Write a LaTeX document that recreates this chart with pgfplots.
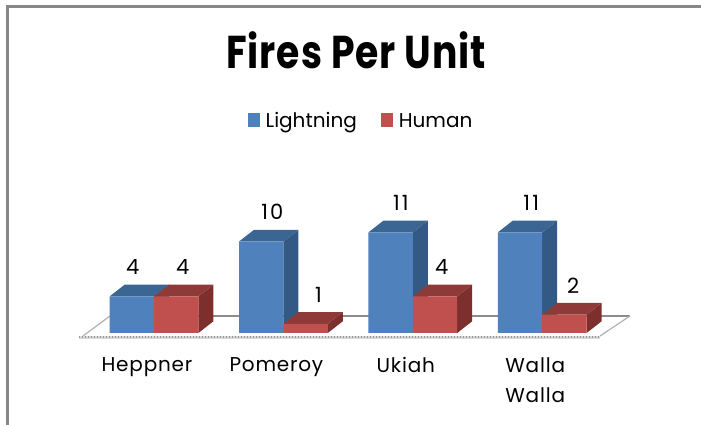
\documentclass[border=0pt]{standalone}
\usepackage{fontspec}
\usepackage{pgfplots}
\usepackage{pgfplotstable}
\pgfplotsset{compat=1.18}
\setmainfont{Poppins}
\newfontfamily\titlefont[FakeStretch=0.82,LetterSpace=2]{Poppins Bold}
\newfontfamily\labelfont[LetterSpace=4]{Poppins}
\newfontfamily\digitfont[LetterSpace=10]{Poppins}
\definecolor{bf}{HTML}{4F81BD}\definecolor{bs}{HTML}{335A85}\definecolor{bt}{HTML}{3B6593}
\definecolor{rf}{HTML}{C0504D}\definecolor{rs}{HTML}{7D2F2D}\definecolor{rt}{HTML}{8E3A38}
\pgfplotstableread{
x v dx
0 4 -21.3
1 10 -11
2 11 -12
3 11 -11
}\lightning
\pgfplotstableread{
x v dx
0 4 28.7
1 1 35
2 4 29
3 2 31
}\human
\newcommand{\facesB}[3]{%
 \addplot[fill=#2,draw=none,forget plot] coordinates {({#1},{#3}) ({#1+0.116},{#3+1.279}) ({#1+0.116},1.279) ({#1},0)} -- cycle;
}
\newcommand{\facesT}[3]{%
 \addplot[fill=#2,draw=none,forget plot] coordinates {({#1-0.343},{#3}) ({#1-0.343+0.116},{#3+1.279}) ({#1+0.116},{#3+1.279}) ({#1},{#3})} -- cycle;
}
\begin{document}
\begin{tikzpicture}[x=1pt,y=1pt]
\useasboundingbox (0,0) rectangle (701,425);
\draw[color=black!47,line width=3pt] (7,0) -- (7,418) -- (701,418);
\begin{axis}[
  at={(0,0)},anchor=south west,
  scale only axis,width=701pt,height=425pt,
  xmin=-1.19,xmax=4.227,ymin=-10.055,ymax=36.393,
  clip=false,
  axis line style={draw=none},
  xtick={0,1,2,3},
  xticklabels={Heppner,Pomeroy,Ukiah,{Walla\\Walla}},
  ytick=\empty,
  xtick style={draw=none},
  xticklabel style={font=\fontsize{20}{30}\labelfont,align=center,anchor=north,yshift=71pt,xshift=-7pt},
  title={\titlefont\fontsize{46}{48}\selectfont Fires Per Unit},
  title style={at={(axis description cs:0.508,0.868)},anchor=center},
  legend style={at={(axis description cs:0.515,0.715)},anchor=center,draw=none,fill=none,
     legend columns=2,font=\fontsize{20}{24}\selectfont,
     /tikz/every odd column/.append style={column sep=4pt},
     /tikz/every even column/.append style={column sep=22pt}},
  legend cell align=left,
  legend image code/.code={\fill[#1] (0cm,-6pt) rectangle (12pt,8pt);},
]
% floor
\addplot[fill=white,draw=none,forget plot] coordinates {(-0.549,-0.33) (-0.34,1.86) (3.678,1.86) (3.447,-0.33)} -- cycle;
\addplot[color=black!45,line width=1.5pt,forget plot] coordinates {(-0.34,1.86) (3.678,1.86)};
\addplot[color=black!30,line width=1.2pt,forget plot] coordinates {(-0.549,-0.33) (-0.34,1.86)};
\addplot[color=black!30,line width=1.2pt,forget plot] coordinates {(3.447,-0.33) (3.678,1.86)};
\addplot[color=black!15,line width=3pt,forget plot] coordinates {(-0.58,-0.5) (3.447,-0.5)};
\addplot[color=black!40,line width=2pt,dash pattern=on 1.5pt off 1.5pt,forget plot] coordinates {(-0.58,-0.4) (3.447,-0.4)};
% Lightning
\facesB{0}{bs}{4}\facesT{0}{bt}{4}
\facesB{1}{bs}{10}\facesT{1}{bt}{10}
\facesB{2}{bs}{11}\facesT{2}{bt}{11}
\facesB{3}{bs}{11}\facesT{3}{bt}{11}
\addplot[ybar,bar width=44.4pt,bar shift=-22.2pt,fill=bf,draw=none,
  visualization depends on={\thisrow{dx} \as \dx},
  nodes near coords,point meta=y,
  nodes near coords style={/pgf/number format/assume math mode=true},
  every node near coord/.append style={font=\fontsize{21}{24}\digitfont,text=black,anchor=south,xshift=\dx pt,yshift=18pt}]
  table[x=x,y=v]{\lightning};
\addlegendentry{Lightning}
% Human
\facesB{0.343}{rs}{4}\facesT{0.343}{rt}{4}
\facesB{1.343}{rs}{1}\facesT{1.343}{rt}{1}
\facesB{2.343}{rs}{4}\facesT{2.343}{rt}{4}
\facesB{3.343}{rs}{2}\facesT{3.343}{rt}{2}
\addplot[ybar,bar width=44.4pt,bar shift=22.2pt,fill=rf,draw=none,
  visualization depends on={\thisrow{dx} \as \dx},
  nodes near coords,point meta=y,
  nodes near coords style={/pgf/number format/assume math mode=true},
  every node near coord/.append style={font=\fontsize{21}{24}\digitfont,text=black,anchor=south,xshift=\dx pt,yshift=18pt}]
  table[x=x,y=v]{\human};
\addlegendentry{Human}
\end{axis}
\end{tikzpicture}
\end{document}
